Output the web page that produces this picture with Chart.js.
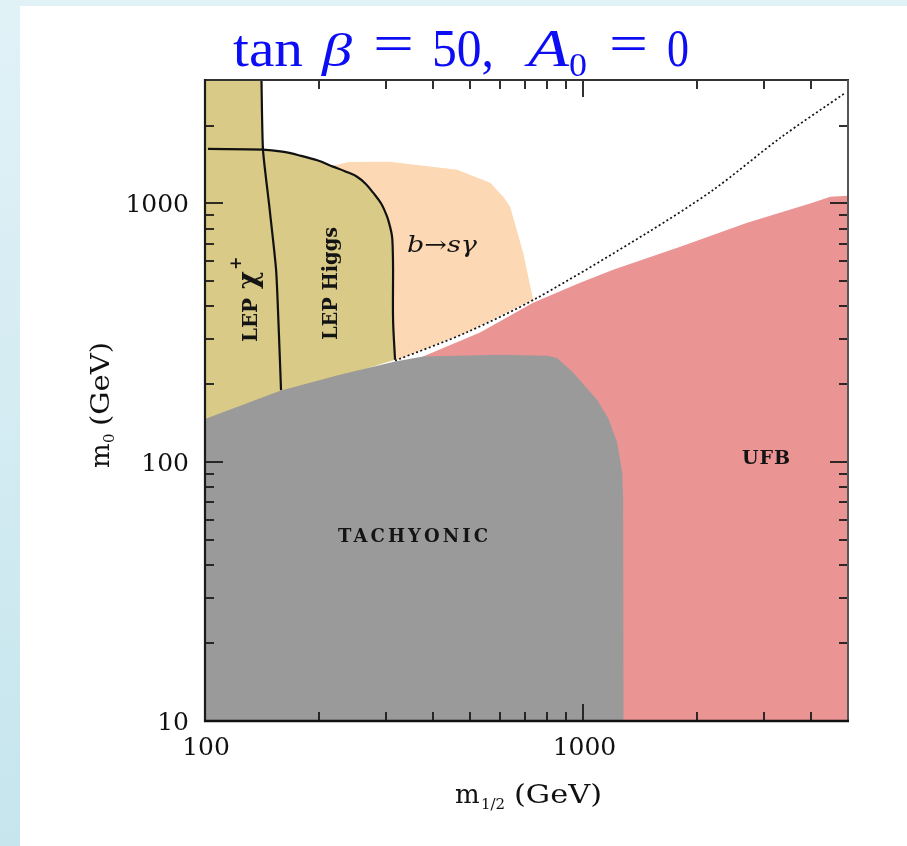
<!DOCTYPE html>
<html>
<head>
<meta charset="utf-8">
<script src="https://cdn.jsdelivr.net/npm/chart.js@4/dist/chart.umd.min.js"></script>
<style>
  html, body { margin: 0; padding: 0; }
  body {
    width: 907px; height: 846px; overflow: hidden; position: relative;
    background: linear-gradient(to bottom, #e1f2f7, #c6e5ed);
  }
  #panel { position: absolute; left: 20px; top: 6px; width: 887px; height: 840px; background: #ffffff; }
  #plot { position: absolute; left: 0; top: 0; }
</style>
</head>
<body>
<div id="panel"></div>
<canvas id="plot" width="907" height="846"></canvas>
<script>
// CMSSB parameter plane, tan(beta) = 50, A0 = 0. x: m1/2 (GeV), y: m0 (GeV)

// LEP chargino bound
const charginoX = [141, 142.3, 147.6, 154.1, 156.9, 158.8];
const charginoY = [3000, 1615, 1000, 555, 305, 190];

// LEP Higgs bound
const higgsX = [101.8, 142.3, 160, 178.3, 198, 217.9, 235, 252.2, 266, 278.1, 292, 302.8, 308.5, 312.1, 313.5, 314, 314, 317.8];
const higgsY = [1625, 1615, 1585, 1531, 1468, 1388, 1330, 1269, 1190, 1101, 1000, 889, 810, 744, 650, 555, 355, 249];

// region excluded by LEP (chargino + Higgs)
const lepX = [100, 141, 142.3, 160, 178.3, 198, 217.9, 235, 252.2, 266, 278.1, 292, 302.8, 308.5, 312.1, 313.5, 314, 314, 317.8, 227, 158, 100, 100];
const lepY = [3000, 3000, 1615, 1585, 1531, 1468, 1388, 1330, 1269, 1190, 1101, 1000, 889, 810, 744, 650, 555, 355, 249, 214, 183, 140, 3000];

// b -> s gamma excluded region
const bsgX = [218, 240, 308, 464, 567, 614, 640, 693, 736, 490, 318, 314, 314, 312, 303, 278, 252, 218];
const bsgY = [1400, 1445, 1451, 1351, 1203, 1062, 972, 645, 425, 317, 247, 355, 555, 744, 889, 1101, 1269, 1400];

// charged-LSP boundary (dotted)
const stauX = [318, 490, 753, 1471, 2207, 3311, 4918];
const stauY = [247, 317, 431, 769, 1131, 1792, 2675];

// unbounded-from-below region
const ufbX = [318, 377, 533, 736, 980, 1198, 1801, 2708, 4048, 4488, 5000, 5000, 318];
const ufbY = [200, 256, 317, 413, 494, 555, 681, 843, 1008, 1062, 1072, 10, 10];

// tachyonic region
const tachX = [100, 158, 227, 318, 377, 602, 802, 852, 939, 1087, 1163, 1228, 1266, 1273, 1276, 100, 100];
const tachY = [147, 189, 218, 245, 256, 260, 258, 253, 222, 174, 148, 119, 91, 73, 10, 10, 147];

// axis ticks
const xTickLabels = [100, 1000];
const yTickLabels = [10, 100, 1000];
const xMajorTicks = [1000];
const xMinorTicks = [200, 300, 400, 500, 600, 700, 800, 900, 2000, 3000, 4000];
const yMajorTicks = [100, 1000];
const yMinorTicks = [20, 30, 40, 50, 60, 70, 80, 90, 200, 300, 400, 500, 600, 700, 800, 900, 2000];

const pts = (xs, ys) => xs.map((v, i) => ({ x: v, y: ys[i] }));

const area = (xs, ys, color, order) => ({
  data: pts(xs, ys), fill: 'shape', backgroundColor: color, borderWidth: 0,
  borderColor: 'rgba(0,0,0,0)', pointRadius: 0, tension: 0, order
});
const curve = (xs, ys, width, dash, tension, order) => ({
  data: pts(xs, ys), fill: false, borderColor: '#111', borderWidth: width,
  borderDash: dash, pointRadius: 0, tension, order
});

const SERIF = '"DejaVu Serif", serif';
const TITLE_FONT = '"Liberation Serif", "Times New Roman", serif';

function fitText(ctx, text, x, y, width) {
  const w = ctx.measureText(text).width;
  ctx.save();
  ctx.translate(x, y);
  ctx.scale(width / w, 1);
  ctx.fillText(text, 0, 0);
  ctx.restore();
}
function spacedText(ctx, text, x, y, width) {
  ctx.letterSpacing = '0px';
  const w = ctx.measureText(text).width;
  const gap = text.length > 1 ? (width - w) / (text.length - 1) : 0;
  ctx.letterSpacing = gap.toFixed(2) + 'px';
  ctx.fillText(text, x, y);
  ctx.letterSpacing = '0px';
}

const axesFrame = {
  id: 'axesFrame',
  afterDatasetsDraw(chart) {
    const { ctx, chartArea: a, scales: { x, y } } = chart;
    ctx.save();
    const seg = (x1, y1, x2, y2, c, w) => {
      ctx.strokeStyle = c; ctx.lineWidth = w;
      ctx.beginPath(); ctx.moveTo(x1, y1); ctx.lineTo(x2, y2); ctx.stroke();
    };
    const tickX = (v, len) => {
      const p = Math.round(x.getPixelForValue(v));
      seg(p, a.bottom, p, a.bottom - len, '#1a1a1a', 1.8);
      seg(p, a.top, p, a.top + len, '#1a1a1a', 1.8);
    };
    const tickY = (v, len) => {
      const p = Math.round(y.getPixelForValue(v));
      seg(a.left, p, a.left + len, p, '#1a1a1a', 1.8);
      seg(a.right, p, a.right - len, p, '#1a1a1a', 1.8);
    };
    xMinorTicks.forEach(v => tickX(v, 9));
    xMajorTicks.forEach(v => tickX(v, 17));
    yMinorTicks.forEach(v => tickY(v, 9));
    yMajorTicks.forEach(v => tickY(v, 18));

    seg(a.left, a.top, a.right + 1, a.top, '#333', 2);
    seg(a.right, a.top, a.right, a.bottom, '#555', 2);
    seg(a.left, a.top - 1, a.left, a.bottom + 1, '#1a1a1a', 2.2);
    seg(a.left - 1, a.bottom, a.right + 1, a.bottom, '#111', 2.6);

    // tick labels
    ctx.fillStyle = '#111';
    ctx.font = '25px ' + SERIF;
    ctx.textBaseline = 'alphabetic';
    ctx.textAlign = 'center';
    xTickLabels.forEach(v => ctx.fillText(String(v), x.getPixelForValue(v) + 1, a.bottom + 34));
    ctx.textAlign = 'right';
    yTickLabels.forEach(v => ctx.fillText(String(v), a.left - 16, y.getPixelForValue(v) + 9));
    ctx.restore();
  },
  afterDraw(chart) {
    const { ctx } = chart;
    ctx.save();
    ctx.textAlign = 'left';
    ctx.textBaseline = 'alphabetic';

    // title
    ctx.fillStyle = '#0c0cf5';
    const up = '52px ' + TITLE_FONT, it = 'italic 52px ' + TITLE_FONT;
    ctx.font = up; fitText(ctx, 'tan', 233, 66, 70);
    ctx.font = 'italic 46px ' + TITLE_FONT; fitText(ctx, 'β', 322, 66, 30);
    ctx.font = up; fitText(ctx, '=', 373, 61, 41);
    ctx.font = up; fitText(ctx, '50,', 432, 66, 62);
    ctx.font = it; fitText(ctx, 'A', 528, 66, 41);
    ctx.font = '34px ' + TITLE_FONT; fitText(ctx, '0', 569, 76, 18);
    ctx.font = up; fitText(ctx, '=', 609, 61, 39);
    ctx.font = up; fitText(ctx, '0', 667, 66, 22);

    // axis titles
    ctx.fillStyle = '#111';
    ctx.font = '26px ' + SERIF;
    ctx.fillText('m', 455, 803);
    ctx.font = '15px ' + SERIF;
    ctx.fillText('1/2', 481, 809);
    ctx.font = '26px ' + SERIF;
    fitText(ctx, '(GeV)', 514, 803, 88);

    ctx.save();
    ctx.translate(109, 468);
    ctx.rotate(-Math.PI / 2);
    ctx.font = '26px ' + SERIF;
    ctx.fillText('m', 0, 0);
    ctx.font = '15px ' + SERIF;
    ctx.fillText('0', 25, 5);
    ctx.font = '26px ' + SERIF;
    fitText(ctx, '(GeV)', 42, 0, 84);
    ctx.restore();

    // region labels
    ctx.fillStyle = '#141414';
    ctx.font = 'bold 18px ' + SERIF;
    spacedText(ctx, 'TACHYONIC', 338, 542, 150);
    ctx.font = 'bold 19px ' + SERIF;
    spacedText(ctx, 'UFB', 742, 464, 48);
    ctx.font = 'italic 22px ' + SERIF;
    fitText(ctx, 'b→sγ', 407, 252, 70);

    ctx.save();
    ctx.translate(337, 340);
    ctx.rotate(-Math.PI / 2);
    ctx.font = 'bold 20px ' + SERIF;
    fitText(ctx, 'LEP Higgs', 0, 0, 113);
    ctx.restore();

    ctx.save();
    ctx.translate(257, 342);
    ctx.rotate(-Math.PI / 2);
    ctx.font = 'bold 20px ' + SERIF;
    fitText(ctx, 'LEP', 0, 0, 44);
    ctx.font = 'bold 27px ' + SERIF;
    ctx.fillText('χ', 53, 0);
    ctx.font = 'bold 16px ' + SERIF;
    ctx.fillText('+', 72, -16);
    ctx.restore();

    ctx.restore();
  }
};

new Chart(document.getElementById('plot'), {
  type: 'line',
  data: {
    datasets: [
      area(bsgX, bsgY, '#fdd8b4', 7),
      area(ufbX, ufbY, '#eb9494', 6),
      area(lepX, lepY, '#d9cb87', 5),
      area(tachX, tachY, '#9a9a9a', 4),
      curve(stauX, stauY, 1.7, [2, 2.5], 0.3, 3),
      curve(charginoX, charginoY, 2.2, [], 0.2, 2),
      curve(higgsX, higgsY, 2.2, [], 0.35, 1)
    ]
  },
  options: {
    responsive: false,
    animation: false,
    layout: { padding: { left: 205, top: 80, right: 59, bottom: 125 } },
    scales: {
      x: { type: 'logarithmic', min: 100, max: 5000, display: false },
      y: { type: 'logarithmic', min: 10, max: 3000, display: false }
    },
    plugins: {
      legend: { display: false },
      tooltip: { enabled: false },
      title: { display: false }
    }
  },
  plugins: [axesFrame]
});
</script>
</body>
</html>
